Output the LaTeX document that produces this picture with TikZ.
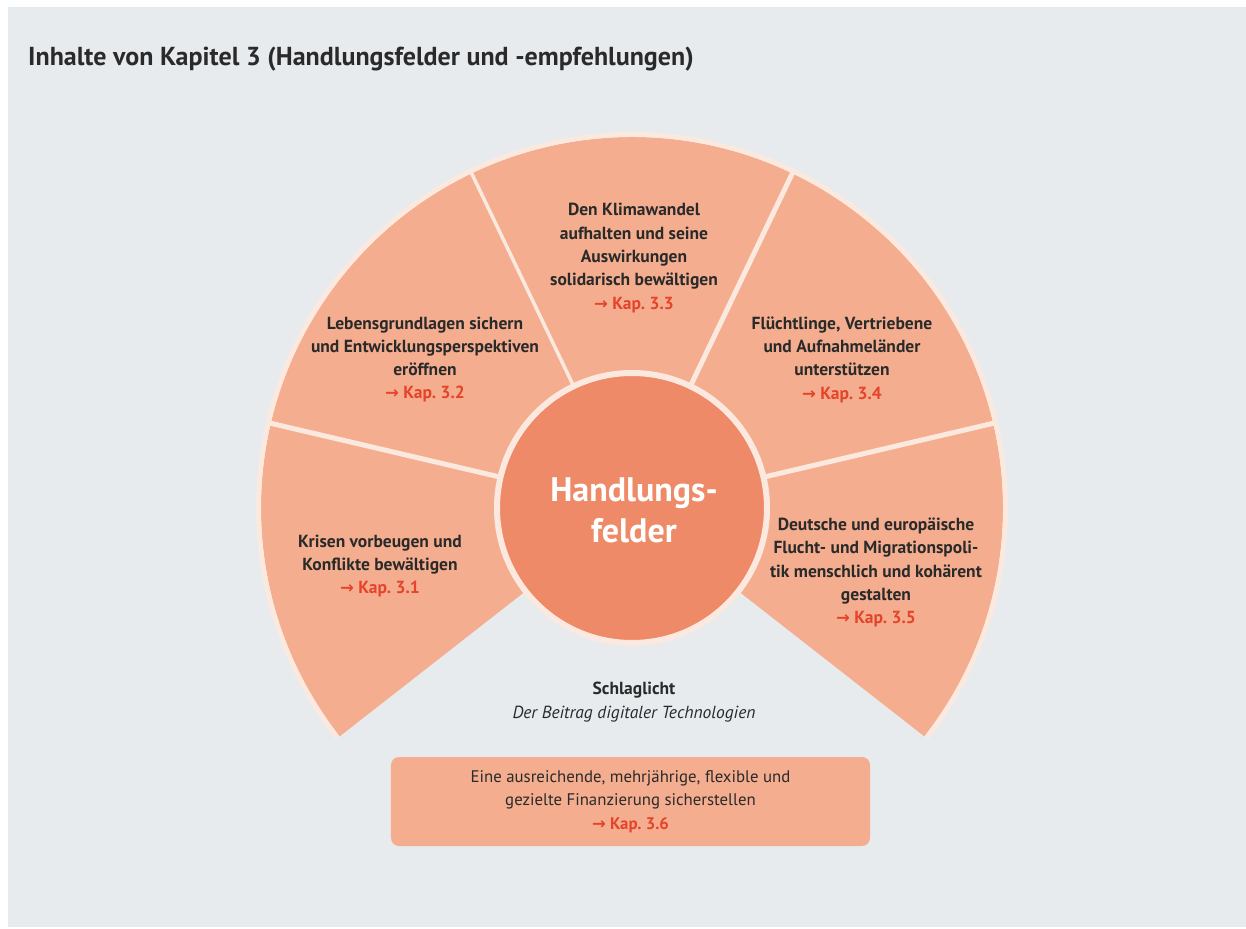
\documentclass[tikz,border=0pt]{standalone}
\usepackage{fontspec}
\setmainfont{PT Sans}
\newfontfamily\arrowfont{DejaVu Sans}
\usetikzlibrary{positioning}

\definecolor{bggrey}{HTML}{E7EBEE}
\definecolor{segfill}{HTML}{F4AE8F}
\definecolor{ringcol}{HTML}{FBE9DF}
\definecolor{corefill}{HTML}{EE8A67}
\definecolor{kapred}{HTML}{E5432A}
\definecolor{darktext}{HTML}{2A2A2A}

\newcommand{\kapref}[1]{{\color{kapred}\bfseries{\arrowfont\bfseries\fontsize{16.5}{16.5}\selectfont →}\ Kap.~#1}}

\tikzset{
  segtext/.style={align=center, text=darktext, font=\bfseries\fontsize{17.5}{23.3}\selectfont},
  divider/.style={draw=ringcol, line width=5pt},
  ring/.style={draw=ringcol, line width=5pt}
}

\begin{document}
\begin{tikzpicture}[x=1pt,y=1pt]
    % page and grey panel
    \useasboundingbox (-632,-420) rectangle (614,508);
    \fill[white] (-632,-420) rectangle (614,508);
    \fill[bggrey] (-624,-419) rectangle (614,501);

    \node[anchor=base west, inner sep=0pt, text=darktext, font=\bfseries\fontsize{26}{30}\selectfont] (title) at (-604,442)
        {Inhalte von Kapitel 3 (Handlungsfelder und -empfehlungen)};

    % fan of five fields
    \fill[segfill] (-38:130) -- (-38:371) arc[start angle=-38, end angle=218, radius=371] -- (218:130) -- cycle;
    \draw[ring] (-38:373.5) arc[start angle=-38, end angle=218, radius=373.5];
    \draw[divider] (166.8:130) -- (166.8:374);
    \draw[divider, line width=3.5pt] (115.6:130) -- (115.6:374);
    \draw[divider] (64.4:130) -- (64.4:374);
    \draw[divider] (13.2:130) -- (13.2:374);

    % centre
    \node[circle, minimum size=270pt, fill=corefill, draw=ringcol, line width=6pt] (core) at (0,0) {};
    \node[text=white, align=center, font=\bfseries\fontsize{34}{41}\selectfont] (corelabel) at (2,-2) {Handlungs-\\felder};

    \node[segtext] (f31) at (-252,-58) {Krisen vorbeugen und\\Konflikte bewältigen\\\kapref{3.1}};
    \node[segtext] (f32) at (-207,148.5) {Lebensgrundlagen sichern\\und Entwicklungsperspektiven\\eröffnen\\\kapref{3.2}};
    \node[segtext] (f33) at (2,250) {Den Klimawandel\\aufhalten und seine\\Auswirkungen\\solidarisch bewältigen\\\kapref{3.3}};
    \node[segtext] (f34) at (210,148.5) {Flüchtlinge, Vertriebene\\und Aufnahmeländer\\unterstützen\\\kapref{3.4}};
    \node[segtext] (f35) at (244,-64.5) {Deutsche und europäische\\Flucht- und Migrationspoli-\\tik menschlich und kohärent\\gestalten\\\kapref{3.5}};

    \node[segtext] (spot) at (2,-194) {Schlaglicht\\\mdseries\itshape Der Beitrag digitaler Technologien};

    % financing box
    \node[fill=segfill, rounded corners=8pt, minimum width=479pt, minimum height=89pt,
          align=center, text=darktext, font=\fontsize{16.8}{23.3}\selectfont] (fin) at (-1.5,-293.5)
        {Eine ausreichende, mehrjährige, flexible und\\gezielte Finanzierung sicherstellen\\\kapref{3.6}};
\end{tikzpicture}
\end{document}
